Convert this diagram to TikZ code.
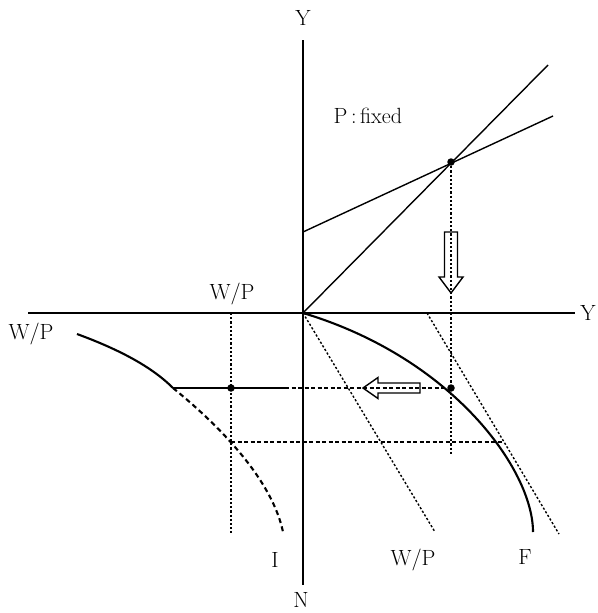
\documentclass[tikz,border=0pt]{standalone}
\begin{document}
\begin{tikzpicture}[x=1pt,y=-1pt,
  font=\fontsize{22}{26}\selectfont,
  thinline/.style={line width=1.4pt},
  curveline/.style={line width=2.1pt},
  dotline/.style={line width=1.4pt,dash pattern=on 2.2pt off 2pt},
  dashline/.style={line width=1.4pt,dash pattern=on 4pt off 2.5pt},
  curvedash/.style={line width=2.1pt,dash pattern=on 5pt off 3.5pt},
  hollow/.style={line width=1.4pt,line join=miter},
  dotmark/.style={circle,fill=black,inner sep=0pt,minimum size=7.5pt}]
\useasboundingbox (0,0) rectangle (597,613);
% axes
\coordinate (O) at (303,313);
\coordinate (ytop) at (303,40);
\coordinate (nbot) at (303,585);
\coordinate (xleft) at (28,313);
\coordinate (xright) at (575,313);
\draw[thinline] (ytop) -- (nbot);
\draw[thinline] (xleft) -- (xright);
\node (Ylab) at (303,18) {Y};
\node (Yrlab) at (588,313) {Y};
\node (Nlab) at (301,600) {N};
% top-right quadrant
\coordinate (diagEnd) at (548,65);
\coordinate (dStart) at (303,232);
\coordinate (dEnd) at (553,116);
\draw[thinline] (O) -- (diagEnd);
\draw[thinline] (dStart) -- (dEnd);
\node[dotmark] (E1) at (451,162) {};
\node[anchor=west] (pfix) at (330,116) {P\,:\,fixed};
% vertical dotted
\coordinate (v1b) at (451,455);
\draw[dotline] (E1.center) -- (v1b);
% down hollow arrow
\draw[hollow] (444.5,232) -- (457.5,232) -- (457.5,277) -- (463,277) -- (451,293) -- (439,277) -- (444.5,277) -- cycle;
% F curve
\node[dotmark] (E2) at (451,388) {};
\draw[curveline] (O) .. controls (453,358) and (533,470) .. (533,532);
\node (Flab) at (525,557) {F};
% W/P dotted lines
\coordinate (w1e) at (435,532);
\coordinate (w2s) at (427,313);
\coordinate (w2e) at (559,534);
\draw[dotline] (O) -- (w1e);
\draw[dotline] (w2s) -- (w2e);
\node (WPb) at (413,560) {W/P};
% left hollow arrow
\draw[hollow] (363,388) -- (378,377.5) -- (378,383) -- (420,383) -- (420,393) -- (378,393) -- (378,398.5) -- cycle;
% bottom-left quadrant
\coordinate (Istart) at (77,334);
\coordinate (Ij) at (173,388);
\coordinate (Iend) at (283,532);
\coordinate (hsplit) at (285,388);
\coordinate (Ix) at (231,442);
\coordinate (Tx) at (503,442);
\coordinate (vtop) at (231,313);
\coordinate (vbot) at (231,533);
\draw[curveline] (Istart) .. controls (115,348) and (150,365) .. (Ij);
\draw[curvedash] (Ij) .. controls (200,410) and (270,470) .. (Iend);
\draw[thinline] (Ij) -- (hsplit);
\draw[dashline] (hsplit) -- (E2.center);
\draw[dashline] (Ix) -- (Tx);
\draw[dotline] (vtop) -- (vbot);
\node[dotmark] (E3) at (231,388) {};
\node (WPt) at (232,294) {W/P};
\node (WPl) at (31,334) {W/P};
\node (Ilab) at (275,560) {I};
\end{tikzpicture}
\end{document}
